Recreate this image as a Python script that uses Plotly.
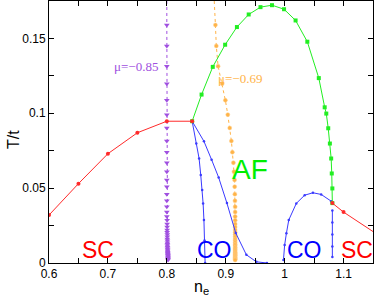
import plotly.graph_objects as go

# SC (red) left
sc_left_n = [0.6, 0.65, 0.7, 0.75, 0.8, 0.843]
sc_left_T = [0.032, 0.053, 0.073, 0.087, 0.0947, 0.0947]
# SC (red) right
sc_right_n = [1.081, 1.1, 1.15]
sc_right_T = [0.040, 0.034, 0.021]

# AF dome (green)
af_n = [0.843, 0.859, 0.878, 0.899, 0.919, 0.939, 0.959, 0.9785, 0.999, 1.0186,
        1.0385, 1.058, 1.068, 1.0707, 1.074, 1.0768, 1.079, 1.080, 1.081, 1.081]
af_T = [0.0947, 0.1125, 0.131, 0.1458, 0.1576, 0.166, 0.1709, 0.1722, 0.1695, 0.162,
        0.1478, 0.1235, 0.104, 0.0998, 0.090, 0.0798, 0.0698, 0.0598, 0.0498, 0.040]

# CO branches (blue)
co_a_n = [0.843, 0.850, 0.8548, 0.8576, 0.860, 0.8616, 0.863, 0.864, 0.865]
co_a_T = [0.0947, 0.0798, 0.0698, 0.0587, 0.0487, 0.0398, 0.0287, 0.015, 0.0]
co_b_n = [0.843, 0.863, 0.876, 0.888, 0.902, 0.917, 0.935, 0.952, 0.970]
co_b_T = [0.0947, 0.0813, 0.069, 0.0571, 0.040, 0.020, 0.0055, 0.0008, 0.0]
co_c_n = [0.998, 1.000, 1.003, 1.007, 1.0198, 1.034, 1.048, 1.062, 1.079]
co_c_T = [0.002, 0.012, 0.0198, 0.0287, 0.0398, 0.0453, 0.0469, 0.0458, 0.0413]
co_d_n = [1.081, 1.081, 1.081, 1.081, 1.081]
co_d_T = [0.035, 0.027, 0.019, 0.011, 0.004]

# fixed-mu lines (shared temperature grid)
mu_T = [0.175, 0.159, 0.145, 0.1315, 0.1198, 0.1087, 0.0991, 0.0902, 0.0815, 0.074,
        0.067, 0.061, 0.0555, 0.051, 0.046, 0.0415, 0.0375, 0.034, 0.031, 0.0285,
        0.026, 0.024, 0.022, 0.0205, 0.019, 0.0175, 0.016, 0.0148, 0.0136, 0.0125,
        0.0115, 0.0105, 0.0096, 0.0088, 0.008, 0.0072, 0.0065, 0.0058, 0.0052, 0.0046,
        0.004, 0.0035, 0.003, 0.0025, 0.002]
mu085_n = [0.800, 0.800, 0.800, 0.800, 0.800, 0.800, 0.800, 0.800, 0.800, 0.800,
           0.800, 0.800, 0.800, 0.800, 0.800, 0.800, 0.800, 0.800, 0.800, 0.8005,
           0.8005, 0.8005, 0.8005, 0.8005, 0.8008, 0.8008, 0.8008, 0.801, 0.801, 0.801,
           0.801, 0.8012, 0.8012, 0.8014, 0.8014, 0.8016, 0.8016, 0.8018, 0.8018, 0.802,
           0.802, 0.802, 0.802, 0.802, 0.802]
mu069_n = [0.8805, 0.8825, 0.884, 0.887, 0.894, 0.8994, 0.9035, 0.9068, 0.9096, 0.9113,
           0.913, 0.914, 0.915, 0.9152, 0.9155, 0.9157, 0.916, 0.916, 0.916, 0.916,
           0.916, 0.916, 0.916, 0.916, 0.916, 0.916, 0.916, 0.916, 0.916, 0.916,
           0.916, 0.916, 0.916, 0.916, 0.916, 0.916, 0.916, 0.916, 0.916, 0.916,
           0.916, 0.916, 0.916, 0.916, 0.916]

x_tickvals = [0.6, 0.7, 0.8, 0.9, 1.0, 1.1]
x_ticktext = ["0.6", "0.7", "0.8", "0.9", "1", "1.1"]
y_tickvals = [0, 0.05, 0.1, 0.15]
y_ticktext = ["0", "0.05", "0.1", "0.15"]

RED = "#ff2a2a"
GREEN = "#22ee22"
BLUE = "#3a3aff"
PURPLE = "#a050e0"
ORANGE = "#ffb347"

fig = go.Figure()

# mu lines first (behind)
fig.add_trace(go.Scatter(x=mu085_n[1:], y=mu_T[1:], mode="lines+markers",
                         line=dict(color=PURPLE, width=1, dash="dot"),
                         marker=dict(symbol="triangle-down", size=5, color=PURPLE)))
fig.add_trace(go.Scatter(x=mu085_n[:2], y=mu_T[:2], mode="lines",
                         line=dict(color=PURPLE, width=1, dash="dot")))
fig.add_trace(go.Scatter(x=mu069_n[1:], y=mu_T[1:], mode="lines+markers",
                         line=dict(color=ORANGE, width=1, dash="dot"),
                         marker=dict(symbol="circle", size=4, color=ORANGE,
                                     line=dict(color="#ffd090", width=0.5))))
fig.add_trace(go.Scatter(x=mu069_n[:2], y=mu_T[:2], mode="lines",
                         line=dict(color=ORANGE, width=1, dash="dot")))

for xs, ys in [(co_a_n, co_a_T), (co_b_n, co_b_T), (co_c_n, co_c_T), (co_d_n, co_d_T)]:
    fig.add_trace(go.Scatter(x=xs, y=ys, mode="lines+markers",
                             line=dict(color=BLUE, width=1),
                             marker=dict(size=2.5, color=BLUE)))

fig.add_trace(go.Scatter(x=af_n, y=af_T, mode="lines+markers",
                         line=dict(color=GREEN, width=1),
                         marker=dict(symbol="square", size=4, color=GREEN)))

fig.add_trace(go.Scatter(x=sc_left_n, y=sc_left_T, mode="lines+markers",
                         line=dict(color=RED, width=1),
                         marker=dict(size=4, color=RED)))
fig.add_trace(go.Scatter(x=sc_right_n[:2], y=sc_right_T[:2], mode="markers",
                         marker=dict(size=4, color=RED)))
fig.add_trace(go.Scatter(x=sc_right_n, y=sc_right_T, mode="lines",
                         line=dict(color=RED, width=1)))

SANS = "Liberation Sans, Arial"
SERIF = "Liberation Serif, Times New Roman"
ann = [
    dict(x=0.683, y=0.0085, text="SC", color="#ff0000", size=23, family=SANS),
    dict(x=0.881, y=0.0085, text="CO", color="#0000ff", size=23, family=SANS),
    dict(x=1.034, y=0.0085, text="CO", color="#0000ff", size=23, family=SANS),
    dict(x=1.122, y=0.0085, text="SC", color="#ff0000", size=23, family=SANS),
    dict(x=0.942, y=0.0625, text="AF", color="#00ee00", size=28, family=SANS),
    dict(x=0.7475, y=0.1315, text="μ=−0.85", color=PURPLE, size=13, family=SERIF),
    dict(x=0.925, y=0.123, text="μ=−0.69", color=ORANGE, size=13, family=SERIF),
]
for a in ann:
    fig.add_annotation(x=a["x"], y=a["y"], text=a["text"], showarrow=False,
                       font=dict(color=a["color"], size=a["size"], family=a["family"]),
                       xanchor="center", yanchor="middle")

# axis titles as paper annotations
fig.add_annotation(x=(201 - 49) / 324, y=-(287 - 263) / 262, xref="paper", yref="paper",
                   text="n<sub>e</sub>", showarrow=False, xanchor="center", yanchor="middle",
                   font=dict(size=16, color="black", family=SANS))
fig.add_annotation(x=-(49 - 13) / 324, y=(263 - 140) / 262, xref="paper", yref="paper",
                   text="T/t", showarrow=False, textangle=-90, xanchor="center", yanchor="middle",
                   font=dict(size=16, color="black", family=SANS))

axis_common = dict(showline=True, linecolor="black", linewidth=1, mirror="ticks",
                   ticks="inside", ticklen=5, tickcolor="black", showgrid=False,
                   zeroline=False, automargin=False,
                   tickfont=dict(size=12, color="black", family=SANS))
fig.update_xaxes(range=[0.6, 1.15], tickvals=x_tickvals, ticktext=x_ticktext,
                 minor=dict(ticks="inside", dtick=0.05, tick0=0.6, ticklen=5, tickcolor="black"),
                 **axis_common)
fig.update_yaxes(range=[0, 0.175], tickvals=y_tickvals, ticktext=y_ticktext,
                 minor=dict(ticks="inside", dtick=0.025, tick0=0, ticklen=5, tickcolor="black"),
                 **axis_common)

fig.update_layout(width=374, height=298, showlegend=False,
                  margin=dict(l=49, r=1, t=1, b=35, autoexpand=False),
                  plot_bgcolor="white", paper_bgcolor="white")

fig.write_html("out.html", config={"displayModeBar": False},
               post_script="document.body.style.margin='0';document.body.style.overflow='hidden';")
